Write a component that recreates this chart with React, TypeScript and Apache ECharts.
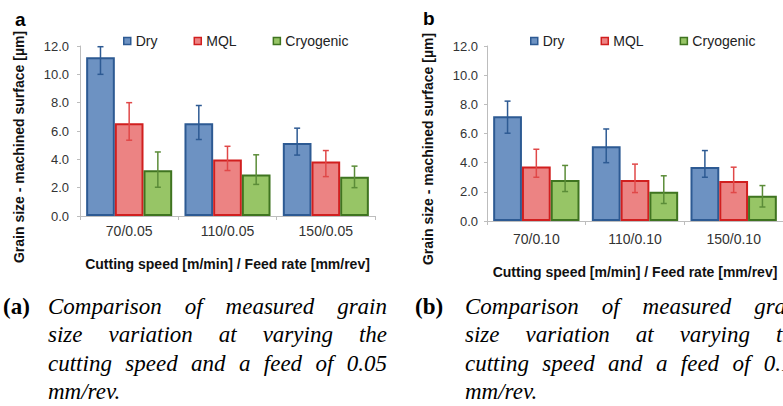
import React, { useEffect, useRef } from "react";
import * as echarts from "echarts";

// ---------- data ----------
const seriesNames = ["Dry", "MQL", "Cryogenic"];
const categoriesA = ["70/0.05", "110/0.05", "150/0.05"];
const categoriesB = ["70/0.10", "110/0.10", "150/0.10"];
const yMin = 0;
const yMax = 12;
const yStep = 2;

// panel a (feed 0.05 mm/rev)
const dryA = [11.2, 6.55, 5.15];
const dryAHigh = [11.95, 7.8, 6.2];
const dryALow = [10.0, 5.4, 4.3];
const mqlA = [6.55, 3.98, 3.85];
const mqlAHigh = [8.0, 4.92, 4.62];
const mqlALow = [5.35, 3.21, 2.78];
const cryoA = [3.23, 2.93, 2.77];
const cryoAHigh = [4.52, 4.32, 3.52];
const cryoALow = [2.03, 2.23, 2.0];

// panel b (feed 0.10 mm/rev)
const dryB = [7.18, 5.12, 3.7];
const dryBHigh = [8.22, 6.31, 4.83];
const dryBLow = [6.02, 4.0, 3.0];
const mqlB = [3.74, 2.82, 2.75];
const mqlBHigh = [4.92, 3.9, 3.69];
const mqlBLow = [3.0, 1.95, 1.95];
const cryoB = [2.82, 2.01, 1.74];
const cryoBHigh = [3.81, 3.1, 2.43];
const cryoBLow = [2.02, 1.2, 0.96];

const yAxisTitle = "Grain size - machined surface [µm]";
const xAxisTitle = "Cutting speed [m/min] / Feed rate [mm/rev]";

const captionA = [
  "Comparison of measured grain",
  "size variation at varying the",
  "cutting speed and a feed of 0.05",
  "mm/rev.",
];
const captionB = [
  "Comparison of measured grain",
  "size variation at varying the",
  "cutting speed and a feed of 0.10",
  "mm/rev.",
];

// ---------- styles ----------
const fills = ["#6d92c2", "#ec8383", "#97c566"];
const borders = ["#2d5a93", "#d11f1f", "#3f7420"];
const errColors = ["#2d5a93", "#e04848", "#5b8c38"];
const BAR_GAP = 0.125;
const SANS = "Liberation Sans";
const SERIF = "Liberation Serif";

function measure(text: string, font: string): number {
  const c = document.createElement("canvas");
  const ctx = c.getContext("2d")!;
  ctx.font = font;
  return ctx.measureText(text).width;
}

function captionElements(
  label: string,
  lines: string[],
  labelX: number,
  x0: number,
  width: number,
  y0: number,
  lineH: number
) {
  const size = 23;
  const font = `italic ${size}px "${SERIF}"`;
  const els: any[] = [
    {
      type: "text",
      x: labelX,
      y: y0,
      style: {
        text: label,
        fontFamily: SERIF,
        fontWeight: "bold",
        fontSize: size,
        fill: "#000",
        verticalAlign: "middle",
        align: "left",
      },
    },
  ];
  lines.forEach((line, li) => {
    const words = line.split(" ");
    const y = y0 + li * lineH;
    const justify = li < lines.length - 1;
    const widths = words.map((w) => measure(w, font));
    const total = widths.reduce((a, b) => a + b, 0);
    const spaceW = measure(" ", font);
    const gap =
      justify && words.length > 1 ? (width - total) / (words.length - 1) : spaceW;
    let x = x0;
    words.forEach((w, wi) => {
      els.push({
        type: "text",
        x,
        y,
        style: {
          text: w,
          fontFamily: SERIF,
          fontStyle: "italic",
          fontSize: size,
          fill: "#000",
          verticalAlign: "middle",
          align: "left",
        },
      });
      x += widths[wi] + gap;
    });
  });
  return els;
}

function errorRender(pos: number, color: string) {
  return (params: any, api: any) => {
    const i = api.value(0);
    const lo = api.coord([i, api.value(1)]);
    const hi = api.coord([i, api.value(2)]);
    const band = api.size([1, 0])[0];
    const bw = (band * (1 - BAR_GAP)) / 3;
    const x = lo[0] + (pos - 1) * bw;
    const cap = 3;
    const style = { stroke: color, lineWidth: 1.5 };
    return {
      type: "group",
      children: [
        { type: "line", shape: { x1: x, y1: hi[1], x2: x, y2: lo[1] }, style },
        { type: "line", shape: { x1: x - cap, y1: hi[1], x2: x + cap, y2: hi[1] }, style },
        { type: "line", shape: { x1: x - cap, y1: lo[1], x2: x + cap, y2: lo[1] }, style },
      ],
    };
  };
}

export default function App() {
  const ref = useRef<HTMLDivElement>(null);

  useEffect(() => {
    if (!ref.current) return;
    const chart = echarts.init(ref.current, undefined, { renderer: "svg" });

    const panels = [
      {
        cats: categoriesA,
        vals: [dryA, mqlA, cryoA],
        highs: [dryAHigh, mqlAHigh, cryoAHigh],
        lows: [dryALow, mqlALow, cryoALow],
      },
      {
        cats: categoriesB,
        vals: [dryB, mqlB, cryoB],
        highs: [dryBHigh, mqlBHigh, cryoBHigh],
        lows: [dryBLow, mqlBLow, cryoBLow],
      },
    ];

    const series: any[] = [];
    panels.forEach((p, pi) => {
      seriesNames.forEach((name, si) => {
        series.push({
          type: "bar",
          name,
          xAxisIndex: pi,
          yAxisIndex: pi,
          data: p.vals[si],
          barGap: "0%",
          barCategoryGap: `${BAR_GAP * 100}%`,
          itemStyle: { color: fills[si], borderColor: borders[si], borderWidth: 2 },
          z: 2,
        });
      });
      seriesNames.forEach((name, si) => {
        series.push({
          type: "custom",
          name: name + " error",
          xAxisIndex: pi,
          yAxisIndex: pi,
          encode: { x: 0, y: [1, 2] },
          data: p.cats.map((_, ci) => [ci, p.lows[si][ci], p.highs[si][ci]]),
          renderItem: errorRender(si, errColors[si]),
          z: 5,
        });
      });
    });

    const grids = [
      { left: 80, top: 46, width: 295, height: 170 },
      { left: 487, top: 46, width: 301, height: 175 },
    ];

    const axisLineStyle = { color: "#bdbdbd", width: 1 };

    const xAxes = panels.map((p, pi) => ({
      type: "category",
      gridIndex: pi,
      data: p.cats,
      axisLine: { lineStyle: axisLineStyle },
      axisTick: { show: true, length: 4, lineStyle: axisLineStyle },
      axisLabel: {
        fontFamily: SANS,
        fontSize: 14,
        color: "#333",
        margin: pi === 0 ? 8 : 11,
      },
      name: xAxisTitle,
      nameLocation: "middle",
      nameGap: pi === 0 ? 41 : 44,
      nameTextStyle: { fontFamily: SANS, fontSize: 14, fontWeight: "bold", color: "#111" },
    }));

    const yAxes = panels.map((_, pi) => ({
      type: "value",
      gridIndex: pi,
      min: yMin,
      max: yMax,
      interval: yStep,
      axisLine: { show: true, lineStyle: axisLineStyle },
      axisTick: { show: true, length: 3, lineStyle: axisLineStyle },
      splitLine: { show: false },
      axisLabel: {
        fontFamily: SANS,
        fontSize: 13,
        color: "#333",
        margin: pi === 0 ? 11 : 9,
        formatter: (v: number) => v.toFixed(1),
      },
    }));

    const legendBase = {
      data: seriesNames,
      icon: "rect",
      itemWidth: 7,
      itemHeight: 7,
      itemGap: 36,
      top: 29,
      textStyle: { fontFamily: SANS, fontSize: 14, color: "#222" },
      itemStyle: { borderWidth: 1.5 },
      selectedMode: false,
    };

    const graphic: any[] = [
      {
        type: "text",
        x: 15,
        y: 19,
        style: { text: "a", fontFamily: SANS, fontWeight: "bold", fontSize: 19, fill: "#000", verticalAlign: "middle" },
      },
      {
        type: "text",
        x: 423,
        y: 18,
        style: { text: "b", fontFamily: SANS, fontWeight: "bold", fontSize: 19, fill: "#000", verticalAlign: "middle" },
      },
      {
        type: "text",
        x: 19,
        y: 147,
        rotation: Math.PI / 2,
        style: {
          text: yAxisTitle,
          fontFamily: SANS,
          fontWeight: "bold",
          fontSize: 14,
          fill: "#111",
          align: "center",
          verticalAlign: "middle",
        },
      },
      {
        type: "text",
        x: 428,
        y: 149,
        rotation: Math.PI / 2,
        style: {
          text: yAxisTitle,
          fontFamily: SANS,
          fontWeight: "bold",
          fontSize: 14,
          fill: "#111",
          align: "center",
          verticalAlign: "middle",
        },
      },
      ...captionElements("(a)", captionA, 3, 48, 339, 306, 28.5),
      ...captionElements("(b)", captionB, 415, 465, 339, 306, 28.5),
    ];

    chart.setOption({
      animation: false,
      backgroundColor: "#fff",
      grid: grids,
      xAxis: xAxes,
      yAxis: yAxes,
      legend: [
        { ...legendBase, left: 118 },
        { ...legendBase, left: 525 },
      ],
      series,
      graphic,
    });

    return () => chart.dispose();
  }, []);

  return (
    <div
      ref={ref}
      style={{ position: "fixed", left: 0, top: 0, width: 783, height: 406, background: "#fff" }}
    />
  );
}
